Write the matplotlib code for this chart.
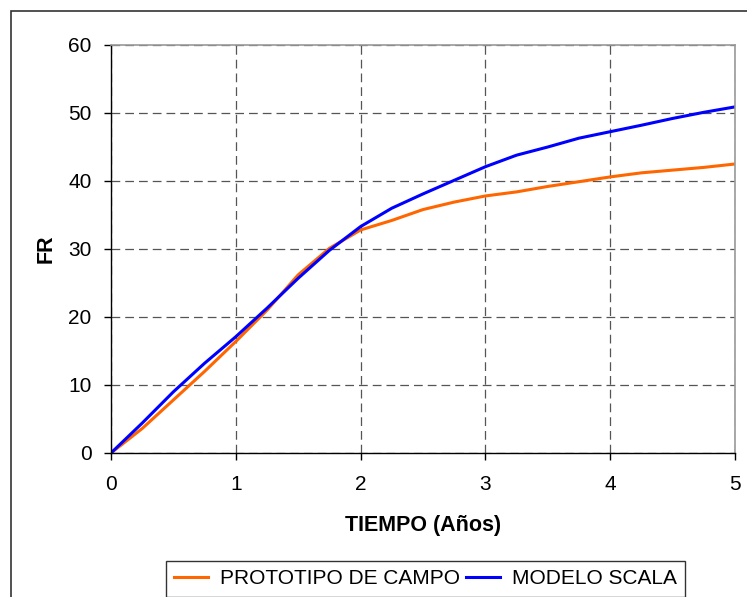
import matplotlib
matplotlib.use("Agg")
import matplotlib.pyplot as plt
from matplotlib.patches import Rectangle

plt.rcParams['font.family'] = ['Liberation Sans', 'DejaVu Sans']

tiempo = [0, 0.25, 0.5, 0.75, 1, 1.25, 1.5, 1.75, 2, 2.25, 2.5, 2.75, 3,
          3.25, 3.5, 3.75, 4, 4.25, 4.5, 4.75, 5]
prototipo = [0, 3.6, 7.8, 12.0, 16.4, 21.0, 26.2, 30.1, 32.8, 34.2, 35.8,
             36.9, 37.8, 38.4, 39.2, 39.9, 40.6, 41.2, 41.6, 42.0, 42.5]
modelo = [0, 4.4, 9.0, 13.2, 17.1, 21.3, 25.7, 29.8, 33.3, 36.0, 38.1,
          40.1, 42.1, 43.8, 45.0, 46.3, 47.25, 48.2, 49.2, 50.1, 50.9]
x_ticks = [0, 1, 2, 3, 4, 5]
y_ticks = [0, 10, 20, 30, 40, 50, 60]

W, H = 747, 597
fig = plt.figure(figsize=(W / 100, H / 100), dpi=100)

# outer chart frame
fig.patches.append(Rectangle((11 / W, -0.05), 1.2, 1 - 11 / H + 0.05,
                             transform=fig.transFigure, fill=False,
                             edgecolor='#333333', linewidth=1.2))

ax = fig.add_axes([111 / W, 1 - 453 / H, (735 - 111) / W, (453 - 45) / H])

ax.plot(tiempo, prototipo, color='#FF6600', linewidth=2.2, label='PROTOTIPO DE CAMPO')
ax.plot(tiempo, modelo, color='#0000FF', linewidth=2.2, label='MODELO SCALA')

ax.set_xlim(0, 5)
ax.set_ylim(0, 60)
ax.set_xticks(x_ticks)
ax.set_yticks(y_ticks)
ax.tick_params(axis='both', direction='out', length=5, width=1, color='black',
               labelsize=15, pad=9)
ax.tick_params(axis='x', pad=11)
ax.grid(True, color='#555555', linestyle=(0, (7, 4)), linewidth=0.9)
ax.set_axisbelow(True)

for s in ['top', 'right']:
    ax.spines[s].set_color('#999999')
    ax.spines[s].set_linewidth(1.2)
for s in ['left', 'bottom']:
    ax.spines[s].set_color('black')
    ax.spines[s].set_linewidth(1.0)

ax.set_xlabel('TIEMPO (Años)', fontsize=15.5, fontweight='bold', labelpad=15)
ax.set_ylabel('FR', fontsize=15.5, fontweight='bold', labelpad=8)

leg = fig.legend(loc='upper left', bbox_to_anchor=(166 / W, 1 - 561 / H),
                 ncol=2, fontsize=15, frameon=True, fancybox=False,
                 edgecolor='black', handlelength=1.6, handletextpad=0.6,
                 columnspacing=0.3, borderpad=0.4, borderaxespad=0)
leg.get_frame().set_linewidth(1.0)

fig.savefig('out.png', dpi=100)
